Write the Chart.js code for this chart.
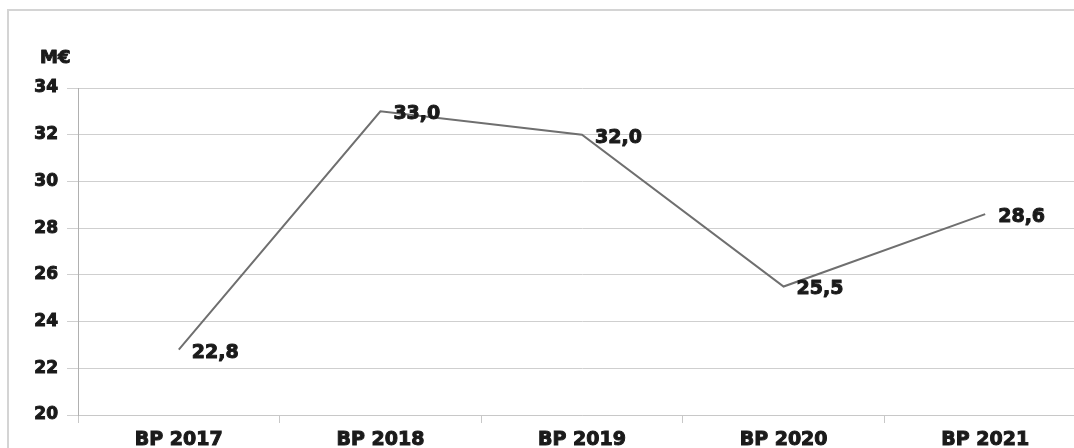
<!DOCTYPE html>
<html>
<head>
<meta charset="utf-8">
<script src="https://cdn.jsdelivr.net/npm/chart.js@4/dist/chart.umd.min.js"></script>
<style>
  html, body { margin: 0; padding: 0; background: #fff; overflow: hidden; }
  #view { position: absolute; left: 0; top: 0; width: 1074px; height: 448px; overflow: hidden; }
  #frame {
    position: absolute; left: 7px; top: 9px; width: 1200px; height: 600px;
    border: 2px solid #d4d4d4; box-sizing: border-box;
  }
  #wrap { position: absolute; left: 0; top: 0; width: 1090px; height: 448px; }
</style>
</head>
<body>
<div id="view">
  <div id="frame"></div>
  <div id="wrap"><canvas id="c" width="1090" height="448"></canvas></div>
</div>
<script>
// Budget primitif par exercice, en millions d'euros
const categories = ['BP 2017', 'BP 2018', 'BP 2019', 'BP 2020', 'BP 2021'];
const values = [22.8, 33.0, 32.0, 25.5, 28.6];
const yTicks = [20, 22, 24, 26, 28, 30, 32, 34];
const unitLabel = 'M€';

const FONT = '"DejaVu Sans", Verdana, sans-serif';
const TEXT = '#1a1a1a';

const fmt = v => v.toFixed(1).replace('.', ',');

// Bold text with a thin outline of the same colour for a heavier weight
function heavyText(ctx, s, x, y) {
  ctx.strokeText(s, x, y);
  ctx.fillText(s, x, y);
}

// Value labels to the right of each point, plus the unit caption above the axis
const annotate = {
  id: 'annotate',
  afterDatasetsDraw(chart) {
    const ctx = chart.ctx;
    const meta = chart.getDatasetMeta(0);
    ctx.save();
    ctx.fillStyle = TEXT;
    ctx.strokeStyle = TEXT;
    ctx.lineWidth = 1;
    ctx.lineJoin = 'round';
    ctx.font = 'bold 19px ' + FONT;
    ctx.textAlign = 'left';
    ctx.textBaseline = 'middle';
    meta.data.forEach((pt, i) => {
      heavyText(ctx, fmt(values[i]), pt.x + 13, pt.y + 3);
    });
    ctx.font = 'bold 18px ' + FONT;
    heavyText(ctx, unitLabel, 40, 58);
    ctx.restore();
  }
};

new Chart(document.getElementById('c'), {
  type: 'line',
  data: {
    labels: categories,
    datasets: [{
      data: values,
      borderColor: '#6f6f6f',
      borderWidth: 2,
      pointRadius: 0,
      tension: 0,
      fill: false
    }]
  },
  options: {
    responsive: false,
    animation: false,
    devicePixelRatio: 1,
    layout: { padding: { top: 88, right: 4, left: 0, bottom: 0 } },
    plugins: { legend: { display: false }, tooltip: { enabled: false } },
    scales: {
      x: {
        offset: true,
        grid: { offset: true, drawOnChartArea: false, drawTicks: true, tickLength: 8, color: '#c8c8c8' },
        border: { display: true, color: '#c8c8c8', width: 1 },
        ticks: {
          color: TEXT, font: { family: FONT, size: 19, weight: 'bold' }, padding: 6,
          textStrokeColor: TEXT, textStrokeWidth: 1
        },
        afterFit(scale) { scale.height = 33; }
      },
      y: {
        min: 20, max: 34,
        afterBuildTicks(scale) { scale.ticks = yTicks.map(v => ({ value: v })); },
        grid: { color: '#cfcfcf', lineWidth: 1, drawTicks: true, tickLength: 11 },
        border: { display: true, color: '#b0b0b0', width: 1 },
        ticks: {
          color: TEXT, font: { family: FONT, size: 17, weight: 'bold' }, padding: 9,
          textStrokeColor: TEXT, textStrokeWidth: 1
        },
        afterFit(scale) { scale.width = 78; }
      }
    }
  },
  plugins: [annotate]
});
</script>
</body>
</html>
